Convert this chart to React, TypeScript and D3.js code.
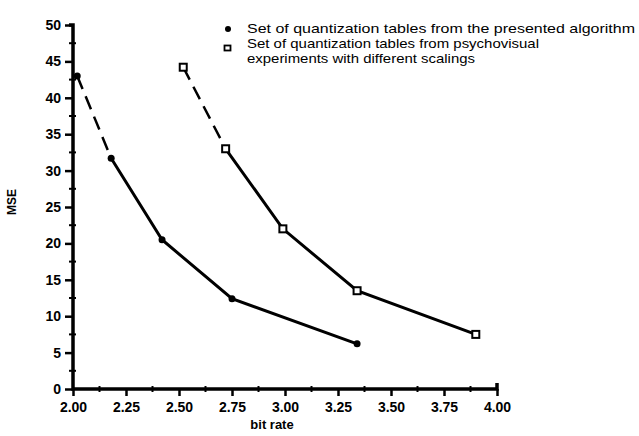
import React, { useRef, useEffect } from "react";
import * as d3 from "d3";

// bit rate vs MSE
const algoRate = [2.02, 2.18, 2.42, 2.75, 3.34];
const algoMse = [43, 31.7, 20.5, 12.4, 6.2];

const psychoRate = [2.52, 2.72, 2.99, 3.34, 3.9];
const psychoMse = [44.2, 33, 22, 13.5, 7.5];

const xTicks = [2.0, 2.25, 2.5, 2.75, 3.0, 3.25, 3.5, 3.75, 4.0];
const yTicks = [0, 5, 10, 15, 20, 25, 30, 35, 40, 45, 50];

const legendLines = [
  "Set of quantization tables from the presented algorithm",
  "Set of quantization tables from psychovisual",
  "experiments with different scalings",
];

const App = () => {
  const ref = useRef(null);

  useEffect(() => {
    if (!ref.current) return;
    const svg = d3.select(ref.current);
    svg.selectAll("*").remove();

    const x = d3.scaleLinear().domain([2, 4]).range([73, 497]);
    const y = d3.scaleLinear().domain([0, 50]).range([389, 25]);
    const font = "'Liberation Sans', Arial, sans-serif";

    const g = svg.append("g");

    // y axis
    const yAxis = g
      .append("g")
      .attr("transform", "translate(" + x(2) + ",0)")
      .call(d3.axisLeft(y).tickValues(yTicks).tickSize(8).tickPadding(4).tickFormat(d3.format("d")));
    yAxis.select(".domain").remove();
    yAxis.selectAll("line").attr("stroke", "#000").attr("stroke-width", 2.5);
    yAxis
      .selectAll("text")
      .attr("font-family", font)
      .attr("font-weight", "bold")
      .attr("font-size", 14)
      .attr("fill", "#000");

    // minor y ticks every 2.5
    const yMinor = d3.range(2.5, 50, 5);
    g.selectAll(".ymin")
      .data(yMinor)
      .enter()
      .append("line")
      .attr("x1", x(2) - 4)
      .attr("x2", x(2) + 3)
      .attr("y1", (d) => y(d))
      .attr("y2", (d) => y(d))
      .attr("stroke", "#000")
      .attr("stroke-width", 2);

    // x axis
    const xAxis = g
      .append("g")
      .attr("transform", "translate(0," + y(0) + ")")
      .call(d3.axisBottom(x).tickValues(xTicks).tickSize(7).tickPadding(6).tickFormat(d3.format(".2f")));
    xAxis.select(".domain").remove();
    xAxis.selectAll("line").attr("stroke", "#000").attr("stroke-width", 2.5);
    xAxis
      .selectAll("text")
      .attr("font-family", font)
      .attr("font-weight", "bold")
      .attr("font-size", 14)
      .attr("fill", "#000");

    const xMinor = d3.range(2.125, 4, 0.25);
    g.selectAll(".xmin")
      .data(xMinor)
      .enter()
      .append("line")
      .attr("x1", (d) => x(d))
      .attr("x2", (d) => x(d))
      .attr("y1", y(0) - 3)
      .attr("y2", y(0) + 3)
      .attr("stroke", "#000")
      .attr("stroke-width", 2);

    // axis lines (with little caps at the ends)
    g.append("path")
      .attr("d", "M" + (x(2) - 4) + "," + y(50) + "H" + x(2) + "V" + y(0) + "H" + x(4) + "V" + (y(0) - 6))
      .attr("fill", "none")
      .attr("stroke", "#000")
      .attr("stroke-width", 3.5);

    // axis titles
    g.append("text")
      .attr("transform", "translate(16,202) rotate(-90)")
      .attr("text-anchor", "middle")
      .attr("font-family", font)
      .attr("font-weight", "bold")
      .attr("font-size", 12)
      .text("MSE");
    g.append("text")
      .attr("x", 272)
      .attr("y", 429)
      .attr("text-anchor", "middle")
      .attr("font-family", font)
      .attr("font-weight", "bold")
      .attr("font-size", 13)
      .text("bit rate");

    const line = d3
      .line()
      .x((d) => x(d[0]))
      .y((d) => y(d[1]));

    const algo = algoRate.map((r, i) => [r, algoMse[i]]);
    const psycho = psychoRate.map((r, i) => [r, psychoMse[i]]);

    [algo, psycho].forEach((pts) => {
      // first segment looks broken in the scan
      g.append("path")
        .attr("d", line(pts.slice(0, 2)))
        .attr("fill", "none")
        .attr("stroke", "#000")
        .attr("stroke-width", 2.5)
        .attr("stroke-dasharray", "14,8");
      g.append("path")
        .attr("d", line(pts.slice(1)))
        .attr("fill", "none")
        .attr("stroke", "#000")
        .attr("stroke-width", 3);
    });

    g.selectAll(".dot")
      .data(algo)
      .enter()
      .append("circle")
      .attr("cx", (d) => x(d[0]))
      .attr("cy", (d) => y(d[1]))
      .attr("r", 3.5)
      .attr("fill", "#000");

    g.selectAll(".sq")
      .data(psycho)
      .enter()
      .append("rect")
      .attr("x", (d) => x(d[0]) - 3.5)
      .attr("y", (d) => y(d[1]) - 3.5)
      .attr("width", 7)
      .attr("height", 7)
      .attr("fill", "#fff")
      .attr("stroke", "#000")
      .attr("stroke-width", 2);

    // legend
    const leg = g.append("g");
    leg.append("circle").attr("cx", 228).attr("cy", 29).attr("r", 3).attr("fill", "#000");
    leg
      .append("rect")
      .attr("x", 224.5)
      .attr("y", 45.5)
      .attr("width", 6)
      .attr("height", 5)
      .attr("fill", "#fff")
      .attr("stroke", "#000")
      .attr("stroke-width", 1.8);
    const lineY = [33, 48, 63];
    const lineLen = [388, 292, 228];
    legendLines.forEach((t, i) => {
      leg
        .append("text")
        .attr("x", 247)
        .attr("y", lineY[i])
        .attr("font-family", font)
        .attr("font-size", 13.5)
        .attr("textLength", lineLen[i])
        .attr("lengthAdjust", "spacingAndGlyphs")
        .attr("fill", "#000")
        .text(t);
    });
  }, []);

  return (
    <div style={{ position: "absolute", left: 0, top: 0 }}>
      <svg ref={ref} width={639} height={436} style={{ display: "block", background: "#fff" }} />
    </div>
  );
};

export default App;
